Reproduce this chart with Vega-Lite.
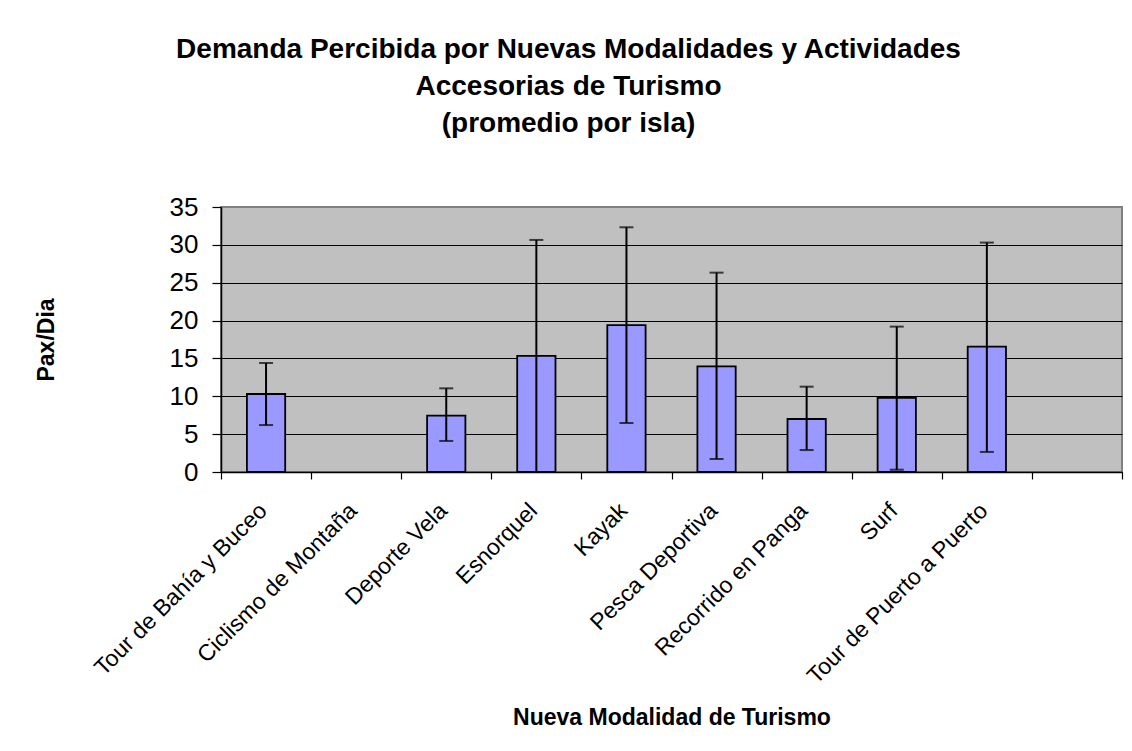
{
  "$schema": "https://vega.github.io/schema/vega-lite/v6.json",
  "autosize": {"type": "none"},
  "padding": {"left": 221, "top": 207, "right": 10, "bottom": 279},
  "width": 901,
  "height": 265,
  "background": "white",
  "title": {
    "text": ["Demanda Percibida por Nuevas Modalidades y Actividades", "Accesorias de Turismo", "(promedio por isla)"],
    "fontSize": 28,
    "font": "Liberation Sans",
    "fontWeight": "bold",
    "color": "black",
    "lineHeight": 37,
    "anchor": "middle",
    "dx": -103,
    "offset": 56
  },
  "data": {
    "values": [
      {"modalidad": "Tour de Bahía y Buceo", "promedio": 10.3, "bajo": 6.2, "alto": 14.4},
      {"modalidad": "Ciclismo de Montaña", "promedio": null, "bajo": null, "alto": null},
      {"modalidad": "Deporte Vela", "promedio": 7.45, "bajo": 4.1, "alto": 11.05},
      {"modalidad": "Esnorquel", "promedio": 15.35, "bajo": 0, "alto": 30.65},
      {"modalidad": "Kayak", "promedio": 19.4, "bajo": 6.47, "alto": 32.32},
      {"modalidad": "Pesca Deportiva", "promedio": 13.95, "bajo": 1.72, "alto": 26.33},
      {"modalidad": "Recorrido en Panga", "promedio": 7.0, "bajo": 2.9, "alto": 11.27},
      {"modalidad": "Surf", "promedio": 9.8, "bajo": 0.3, "alto": 19.2},
      {"modalidad": "Tour de Puerto a Puerto", "promedio": 16.55, "bajo": 2.65, "alto": 30.3}
    ]
  },
  "encoding": {
    "x": {
      "field": "modalidad",
      "type": "nominal",
      "scale": {
        "domain": ["Tour de Bahía y Buceo", "Ciclismo de Montaña", "Deporte Vela", "Esnorquel", "Kayak", "Pesca Deportiva", "Recorrido en Panga", "Surf", "Tour de Puerto a Puerto", " "],
        "paddingInner": 0,
        "paddingOuter": 0
      },
      "axis": {
        "tickBand": "extent",
        "tickSize": 7,
        "tickColor": "black",
        "tickWidth": 1.2,
        "domainColor": "black",
        "domainWidth": 1.5,
        "grid": false,
        "labelAngle": -45,
        "labelAlign": "right",
        "labelBaseline": "top",
        "labelFontSize": 23,
        "labelFont": "Liberation Sans",
        "labelColor": "black",
        "labelOffset": -11,
        "labelPadding": 20,
        "labelLimit": 500,
        "labelOverlap": false,
        "labelBound": false,
        "title": "Nueva Modalidad de Turismo",
        "titleFontSize": 23,
        "titleFont": "Liberation Sans",
        "titleFontWeight": "bold",
        "titleColor": "black",
        "titleY": 252,
        "titleBaseline": "alphabetic"
      }
    }
  },
  "layer": [
    {
      "mark": {"type": "bar", "width": {"band": 0.425}, "fill": "#9999FF", "stroke": "black", "strokeWidth": 1.8},
      "encoding": {
        "y": {
          "field": "promedio",
          "type": "quantitative",
          "title": "Pax/Dia",
          "scale": {"domain": [0, 35], "nice": false, "zero": true},
          "axis": {"values": [0, 5, 10, 15, 20, 25, 30, 35], "gridColor": {"condition": {"test": "datum.value == 35", "value": "#808080"}, "value": "black"}}
        }
      }
    },
    {
      "mark": {"type": "rule", "color": "black", "strokeWidth": 2},
      "encoding": {
        "y": {"field": "bajo", "type": "quantitative", "title": "Pax/Dia", "axis": {"values": [0, 5, 10, 15, 20, 25, 30, 35], "gridColor": {"condition": {"test": "datum.value == 35", "value": "#808080"}, "value": "black"}}},
        "y2": {"field": "alto"}
      }
    },
    {
      "mark": {"type": "tick", "color": "black", "thickness": 2, "size": 14},
      "encoding": {
        "y": {"field": "bajo", "type": "quantitative", "title": "Pax/Dia", "axis": {"values": [0, 5, 10, 15, 20, 25, 30, 35], "gridColor": {"condition": {"test": "datum.value == 35", "value": "#808080"}, "value": "black"}}}
      }
    },
    {
      "mark": {"type": "tick", "color": "black", "thickness": 2, "size": 14},
      "encoding": {
        "y": {"field": "alto", "type": "quantitative", "title": "Pax/Dia", "axis": {"values": [0, 5, 10, 15, 20, 25, 30, 35], "gridColor": {"condition": {"test": "datum.value == 35", "value": "#808080"}, "value": "black"}}}
      }
    }
  ],
  "config": {
    "font": "Liberation Sans",
    "view": {"fill": "#C0C0C0", "stroke": "#808080", "strokeWidth": 2},
    "axisY": {
      "labelOverlap": false,
      "grid": true,
      "gridWidth": 1,
      "domainColor": "black",
      "domainWidth": 1.5,
      "tickColor": "black",
      "tickSize": 9,
      "tickWidth": 1.2,
      "labelFontSize": 26,
      "labelFont": "Liberation Sans",
      "labelColor": "black",
      "labelPadding": 14,
      "labelBaseline": "middle",
      "labelFlush": false,
      "titleFontSize": 23,
      "titleFont": "Liberation Sans",
      "titleFontWeight": "bold",
      "titleColor": "black",
      "titleX": -168,
      "titleBaseline": "alphabetic",
      "titleAngle": -90
    }
  }
}
